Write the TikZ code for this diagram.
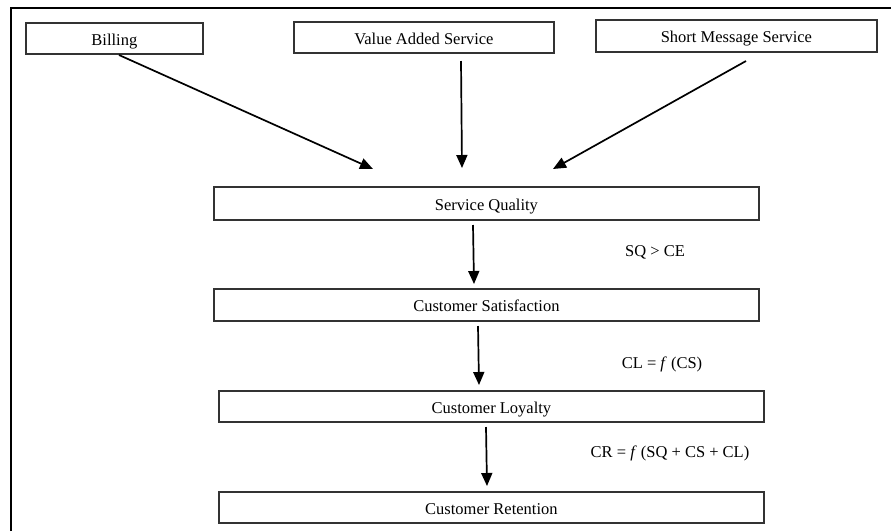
\documentclass[tikz,border=0pt]{standalone}
\usepackage{fontspec}
\setmainfont{Liberation Serif}
\usetikzlibrary{arrows.meta}
\begin{document}
\begin{tikzpicture}[x=1pt,y=-1pt,
  box/.style={draw=black!80,line width=1.8pt,inner sep=0pt,anchor=north west,text height=14pt,text depth=0pt,font=\fontsize{16.5}{18}\selectfont},
  arr/.style={draw=black,line width=1.7pt,-{Triangle[length=13pt,width=11pt]}},
  lbl/.style={font=\fontsize{16.5}{18}\selectfont,inner sep=0pt}]
\useasboundingbox (0,0) rectangle (891,531);
\fill[white] (0,0) rectangle (891,531);
\draw[line width=2.4pt] (11,531) -- (11,8) -- (891,8);
% top boxes
\node[box,minimum width=177pt,minimum height=31pt] (bill) at (25,22) {Billing};
\node[box,minimum width=260pt,minimum height=31pt] (vas) at (293,21) {Value Added Service};
\node[box,minimum width=281pt,minimum height=32pt] (sms) at (595,19) {Short Message Service};
% main column
\node[box,minimum width=545pt,minimum height=33pt] (sq) at (213,186) {Service Quality};
\node[box,minimum width=545pt,minimum height=32pt] (cs) at (213,288) {Customer Satisfaction};
\node[box,minimum width=545pt,minimum height=31pt] (cl) at (218,390) {Customer Loyalty};
\node[box,minimum width=545pt,minimum height=31pt] (cr) at (218,491) {Customer Retention};
% labels
\node[lbl] (f1) at (655,252) {SQ > CE};
\node[lbl] (f2) at (662,364) {CL = \textit{f} (CS)};
\node[lbl] (f3) at (670,453) {CR = \textit{f} (SQ + CS + CL)};
% arrow endpoints
\coordinate (b1) at (119,55);
\coordinate (b2) at (373,169);
\coordinate (v1) at (461,61);
\coordinate (v2) at (462,168);
\coordinate (s1) at (746,61);
\coordinate (s2) at (553,169);
\coordinate (q1) at (473,225);
\coordinate (q2) at (474,284);
\coordinate (c1) at (478,326);
\coordinate (c2) at (479,385);
\coordinate (l1) at (486,427);
\coordinate (l2) at (487,486);
\draw[arr] (b1) -- (b2);
\draw[arr] (v1) -- (v2);
\draw[arr] (s1) -- (s2);
\draw[arr] (q1) -- (q2);
\draw[arr] (c1) -- (c2);
\draw[arr] (l1) -- (l2);
\end{tikzpicture}
\end{document}
